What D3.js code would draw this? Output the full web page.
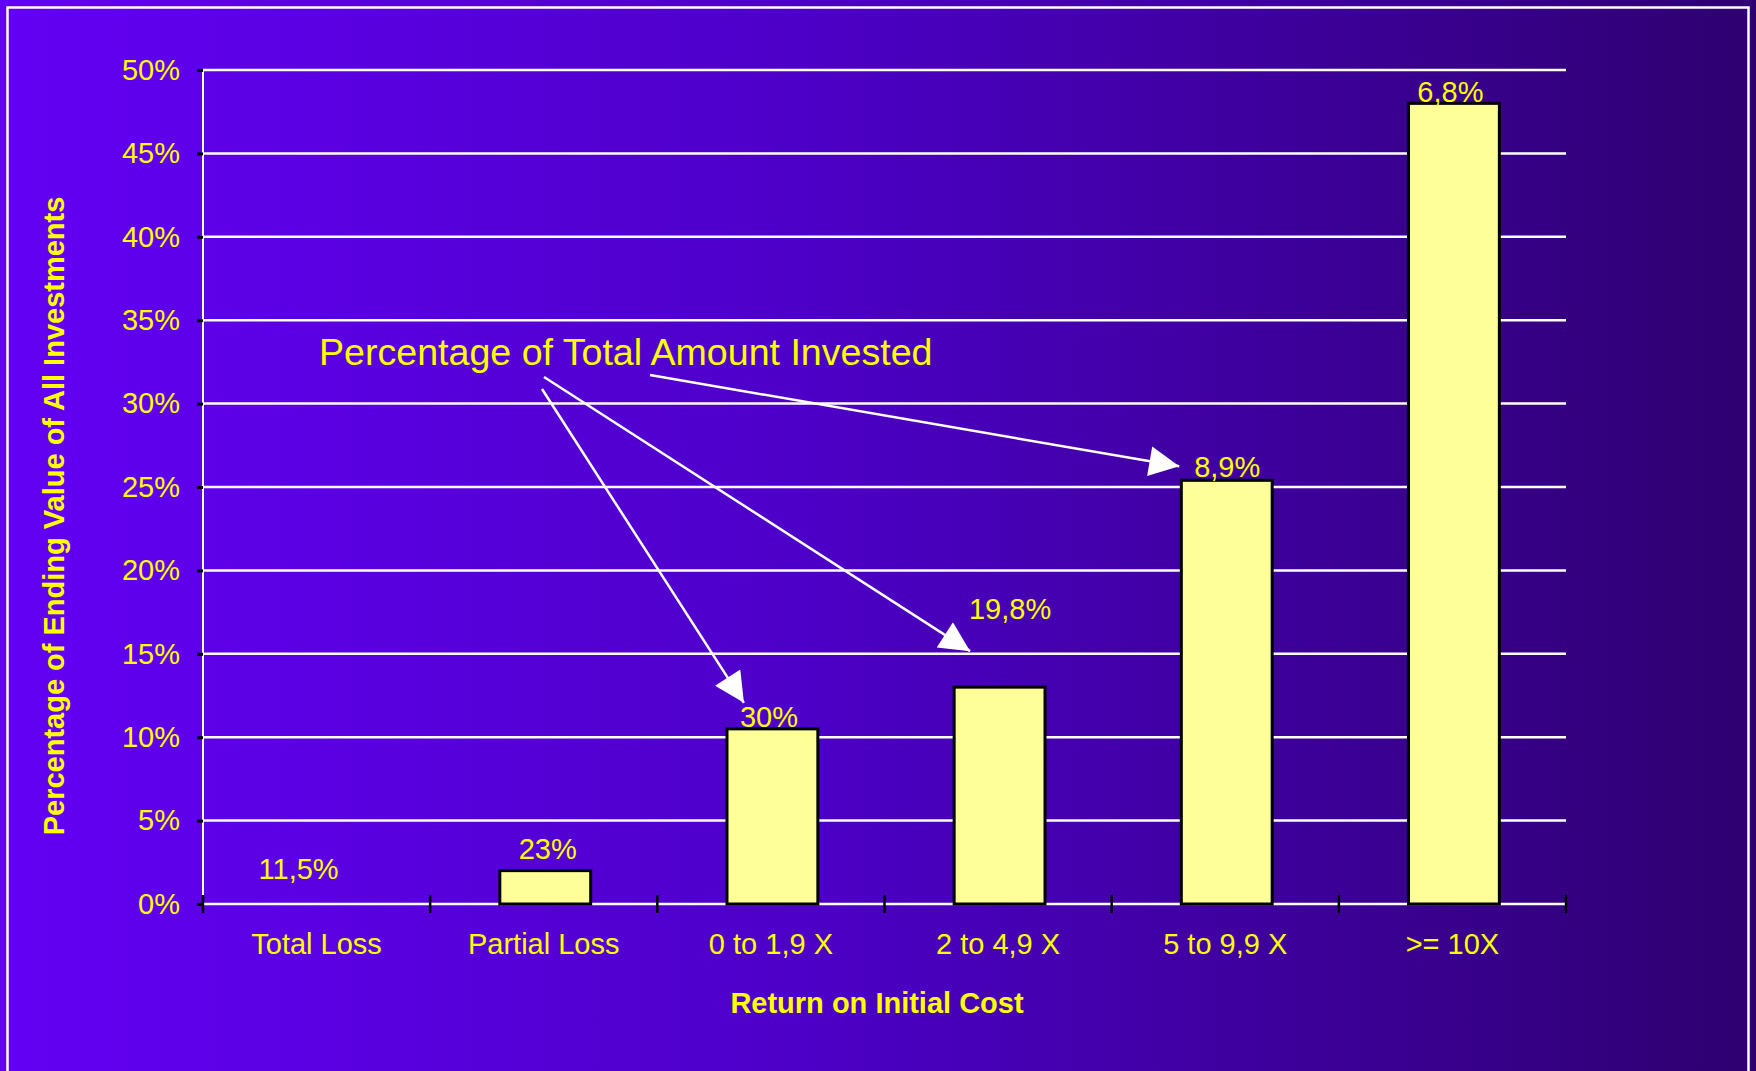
<!DOCTYPE html>
<html>
<head>
<meta charset="utf-8">
<script src="https://cdn.jsdelivr.net/npm/d3@7"></script>
<style>
  html, body { margin: 0; padding: 0; background: #4a00c0; }
  svg { display: block; }
  text { font-family: "Liberation Sans", Arial, sans-serif; }
</style>
</head>
<body>
<svg id="chart" width="1756" height="1071"></svg>
<script>
// ---- data ----
const categories = ["Total Loss", "Partial Loss", "0 to 1,9 X", "2 to 4,9 X", "5 to 9,9 X", ">= 10X"];
const endingValuePct = [0, 2.0, 10.5, 13.0, 25.4, 48.0];
const amountInvestedLabels = ["11,5%", "23%", "30%", "19,8%", "8,9%", "6,8%"];
const yTicks = [0, 5, 10, 15, 20, 25, 30, 35, 40, 45, 50];
const yAxisTitle = "Percentage of Ending Value of All Investments";
const xAxisTitle = "Return on Initial Cost";
const calloutText = "Percentage of Total Amount Invested";

// ---- layout ----
const W = 1756, H = 1071;
const plot = { left: 203, right: 1566, top: 70, bottom: 904 };
const svg = d3.select("#chart");

// background gradient
const defs = svg.append("defs");
const grad = defs.append("linearGradient").attr("id", "bg").attr("x1", "0").attr("x2", "1").attr("y1", "0").attr("y2", "0");
grad.append("stop").attr("offset", "0").attr("stop-color", "#6300f4");
grad.append("stop").attr("offset", "0.45").attr("stop-color", "#4d00c8");
grad.append("stop").attr("offset", "1").attr("stop-color", "#2e0070");
svg.append("rect").attr("width", W).attr("height", H).attr("fill", "url(#bg)");

// frame
svg.append("rect").attr("x", 7.5).attr("y", 7.5).attr("width", 1741).attr("height", H + 20)
  .attr("fill", "none").attr("stroke", "#ffffff").attr("stroke-width", 2.5);

// arrow marker
defs.append("marker").attr("id", "arrow").attr("viewBox", "0 0 10 10").attr("refX", 10).attr("refY", 5)
  .attr("markerUnits", "userSpaceOnUse").attr("markerWidth", 38).attr("markerHeight", 30).attr("orient", "auto")
  .append("path").attr("d", "M0,0 L10,5 L0,10 Z").attr("fill", "#ffffff");

// scales
const x = d3.scaleBand().domain(categories).range([plot.left, plot.right]).paddingInner(0.6).paddingOuter(0.3);
const y = d3.scaleLinear().domain([0, 50]).range([plot.bottom, plot.top]);

// gridlines
svg.append("g").selectAll("line").data(yTicks).join("line")
  .attr("x1", plot.left).attr("x2", plot.right)
  .attr("y1", d => y(d)).attr("y2", d => y(d))
  .attr("stroke", "#ffffff").attr("stroke-width", 2.5);

// y axis line
svg.append("line").attr("x1", plot.left).attr("x2", plot.left).attr("y1", y(50)).attr("y2", y(0))
  .attr("stroke", "#ffffff").attr("stroke-width", 2);

// y axis ticks & labels
const yAxis = d3.axisLeft(y).tickValues(yTicks).tickFormat(d => d + "%").tickSize(6).tickPadding(17);
const gy = svg.append("g").attr("transform", `translate(${plot.left},0)`).call(yAxis);
gy.select(".domain").remove();
gy.selectAll(".tick line").attr("stroke", "#000000").attr("stroke-width", 3);
gy.selectAll(".tick text").attr("fill", "#ffff00").attr("font-size", 29)
  .attr("font-family", "'Liberation Sans', Arial, sans-serif");

// bars
svg.append("g").selectAll("rect").data(categories.map((c, i) => ({ c, v: endingValuePct[i] })).filter(d => d.v > 0))
  .join("rect")
  .attr("x", d => x(d.c) + 1.5).attr("width", x.bandwidth())
  .attr("y", d => y(d.v)).attr("height", d => y(0) - y(d.v))
  .attr("fill", "#ffff99").attr("stroke", "#000000").attr("stroke-width", 3);

// x axis category boundary ticks
const step = x.step();
const x0 = plot.left;
const boundaries = d3.range(categories.length + 1).map(i => x0 + i * step);
svg.append("g").selectAll("line").data(boundaries).join("line")
  .attr("x1", d => d).attr("x2", d => d).attr("y1", y(0) - 9).attr("y2", y(0) + 9)
  .attr("stroke", "#000000").attr("stroke-width", 2.5);

// category labels
svg.append("g").selectAll("text").data(categories).join("text")
  .attr("x", d => x(d) + x.bandwidth() / 2)
  .attr("y", y(0) + 50)
  .attr("text-anchor", "middle").attr("fill", "#ffff00").attr("font-size", 29)
  .text(d => d);

// data labels (percentage of total amount invested), nudged like the original
const nudge = [[-18, -25], [4, -12], [-2, -2], [12, -68], [2, -3], [-2, -1]];
const labelPos = categories.map((c, i) => ({
  t: amountInvestedLabels[i],
  x: x(c) + x.bandwidth() / 2 + nudge[i][0],
  y: y(endingValuePct[i]) + nudge[i][1]
}));
svg.append("g").selectAll("text").data(labelPos).join("text")
  .attr("x", d => d.x).attr("y", d => d.y)
  .attr("text-anchor", "middle").attr("fill", "#ffff00").attr("font-size", 29)
  .text(d => d.t);

// axis titles
svg.append("text").attr("x", 877).attr("y", 1013).attr("text-anchor", "middle")
  .attr("fill", "#ffff00").attr("font-size", 29).attr("font-weight", "bold").text(xAxisTitle);
svg.append("text").attr("transform", "translate(64,516) rotate(-90)").attr("text-anchor", "middle")
  .attr("fill", "#ffff00").attr("font-size", 29).attr("font-weight", "bold").text(yAxisTitle);

// callout
svg.append("text").attr("x", 319).attr("y", 365).attr("fill", "#ffff00").attr("font-size", 37.6).text(calloutText);

// arrows from callout to labels
const arrows = [
  { from: [542, 389], to: [labelPos[2].x - 25, labelPos[2].y - 24] },
  { from: [544, 377], to: [labelPos[3].x - 40, labelPos[3].y + 32] },
  { from: [650, 375], to: [labelPos[4].x - 48, labelPos[4].y - 11] }
];
svg.append("g").selectAll("line").data(arrows).join("line")
  .attr("x1", d => d.from[0]).attr("y1", d => d.from[1])
  .attr("x2", d => d.to[0]).attr("y2", d => d.to[1])
  .attr("stroke", "#ffffff").attr("stroke-width", 2.5).attr("marker-end", "url(#arrow)");
</script>
</body>
</html>
